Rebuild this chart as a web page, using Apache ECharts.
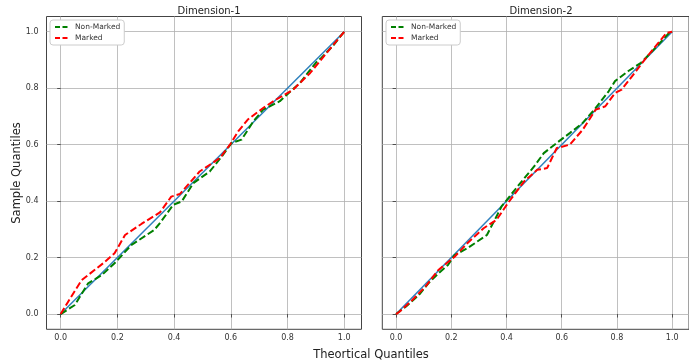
<!DOCTYPE html>
<html>
<head>
<meta charset="utf-8">
<script src="https://cdn.jsdelivr.net/npm/echarts@6/dist/echarts.min.js"></script>
<style>html,body{margin:0;padding:0;background:#fff}#c{width:689px;height:362px}</style>
</head>
<body>
<div id="c"></div>
<script>
const tickValues = [0.0, 0.2, 0.4, 0.6, 0.8, 1.0];
const titles = ['Dimension-1', 'Dimension-2'];
const seriesNames = ['Non-Marked', 'Marked'];

// Dimension-1
const dim1NonMarked = [[0,0],[0.05,0.032],[0.097,0.109],[0.145,0.138],[0.19,0.18],[0.25,0.245],[0.33,0.298],[0.35,0.322],[0.397,0.387],[0.427,0.399],[0.468,0.464],[0.526,0.505],[0.568,0.558],[0.603,0.606],[0.638,0.618],[0.68,0.683],[0.714,0.724],[0.773,0.754],[0.844,0.819],[0.90,0.89],[0.92,0.908],[0.96,0.95],[1,1]];
const dim1Marked = [[0,0],[0.03,0.05],[0.074,0.12],[0.15,0.18],[0.19,0.215],[0.227,0.28],[0.286,0.32],[0.35,0.36],[0.39,0.416],[0.42,0.425],[0.49,0.505],[0.562,0.553],[0.597,0.6],[0.626,0.647],[0.66,0.689],[0.714,0.73],[0.76,0.76],[0.82,0.795],[0.88,0.854],[0.938,0.925],[1,1]];
// Dimension-2
const dim2NonMarked = [[0,0],[0.035,0.026],[0.082,0.067],[0.117,0.109],[0.153,0.144],[0.188,0.174],[0.212,0.209],[0.258,0.233],[0.329,0.28],[0.382,0.381],[0.44,0.452],[0.5,0.523],[0.535,0.57],[0.582,0.606],[0.629,0.641],[0.676,0.677],[0.723,0.73],[0.77,0.789],[0.793,0.825],[0.84,0.86],[0.887,0.89],[0.922,0.925],[0.993,1.0],[1,1]];
const dim2Marked = [[0,0],[0.012,0.008],[0.059,0.05],[0.106,0.097],[0.153,0.156],[0.212,0.203],[0.258,0.251],[0.317,0.304],[0.364,0.334],[0.405,0.393],[0.464,0.47],[0.511,0.511],[0.547,0.517],[0.582,0.588],[0.629,0.6],[0.676,0.653],[0.723,0.724],[0.758,0.736],[0.793,0.783],[0.817,0.795],[0.864,0.854],[0.91,0.913],[0.98,0.996],[1,1]];
const refLine = [[0,0],[1,1]];

const font = 'DejaVu Sans';
const chart = echarts.init(document.getElementById('c'), null, {renderer: 'canvas'});

function xAx(i) {
  return {
    type: 'value', gridIndex: i, min: -0.05, max: 1.061,
    axisLine: {show: false},
    axisTick: {show: true, customValues: tickValues, length: 3.5, lineStyle: {color: '#333', width: 0.8}},
    axisLabel: {customValues: tickValues, color: '#333', fontSize: 8, fontFamily: font, margin: 5, formatter: v => v.toFixed(1)},
    splitLine: {show: true, lineStyle: {color: '#b0b0b0', width: 0.8}}
  };
}
function yAx(i, labels) {
  return {
    type: 'value', gridIndex: i, min: -0.054, max: 1.054,
    axisLine: {show: false},
    axisTick: {show: true, customValues: tickValues, length: 3.5, lineStyle: {color: '#333', width: 0.8}},
    axisLabel: {show: labels, customValues: tickValues, color: '#333', fontSize: 8, fontFamily: font, margin: 8, formatter: v => v.toFixed(1)},
    splitLine: {show: true, lineStyle: {color: '#b0b0b0', width: 0.8}}
  };
}
function dashed(name, data, color, i) {
  return {name, type: 'line', xAxisIndex: i, yAxisIndex: i, data, showSymbol: false, symbol: 'none',
    lineStyle: {color, width: 2, type: [7, 3]}, itemStyle: {color}, z: 3, animation: false};
}
function legend(i, left) {
  return {
    data: seriesNames.map(n => ({name: n})), orient: 'vertical', left, top: 20,
    backgroundColor: '#fff', borderColor: '#ccc', borderWidth: 1, borderRadius: 3,
    padding: [3, 4, 3, 4], itemGap: 3, itemWidth: 15, itemHeight: 8,
    itemStyle: {opacity: 0},
    lineStyle: {type: [5, 2.5], width: 2},
    textStyle: {fontSize: 7.5, fontFamily: font, color: '#333'}
  };
}

chart.setOption({
  animation: false,
  textStyle: {fontFamily: font},
  grid: [
    {left: 46.5, top: 16.5, width: 315, height: 312.8, show: true, borderColor: '#444', borderWidth: 1, backgroundColor: 'transparent'},
    {left: 382.3, top: 16.5, width: 315, height: 312.8, show: true, borderColor: '#444', borderWidth: 1, backgroundColor: 'transparent'}
  ],
  title: [
    {text: titles[0], left: 204, top: 1, textAlign: 'center', textStyle: {fontSize: 10, fontWeight: 'normal', color: '#222', fontFamily: font}},
    {text: titles[1], left: 536, top: 1, textAlign: 'center', textStyle: {fontSize: 10, fontWeight: 'normal', color: '#222', fontFamily: font}},
    {text: 'Theortical Quantiles', left: 366, top: 344, textAlign: 'center', textStyle: {fontSize: 11.5, fontWeight: 'normal', color: '#222', fontFamily: font}}
  ],
  graphic: [{type: 'text', x: 17, y: 173, rotation: Math.PI / 2,
    style: {text: 'Sample Quantiles', fontSize: 11.5, fontFamily: font, fill: '#222', align: 'center', verticalAlign: 'middle'}}],
  legend: [legend(0, 50), legend(1, 386)],
  xAxis: [xAx(0), xAx(1)],
  yAxis: [yAx(0, true), yAx(1, false)],
  series: [
    {name: 'ref1', type: 'line', xAxisIndex: 0, yAxisIndex: 0, data: refLine, showSymbol: false, symbol: 'none', lineStyle: {color: '#2f80bd', width: 1.5}, z: 2},
    dashed(seriesNames[0], dim1NonMarked, '#008000', 0),
    dashed(seriesNames[1], dim1Marked, '#ff0000', 0),
    {name: 'ref2', type: 'line', xAxisIndex: 1, yAxisIndex: 1, data: refLine, showSymbol: false, symbol: 'none', lineStyle: {color: '#2f80bd', width: 1.5}, z: 2},
    dashed(seriesNames[0], dim2NonMarked, '#008000', 1),
    dashed(seriesNames[1], dim2Marked, '#ff0000', 1)
  ]
});
</script>
</body>
</html>
